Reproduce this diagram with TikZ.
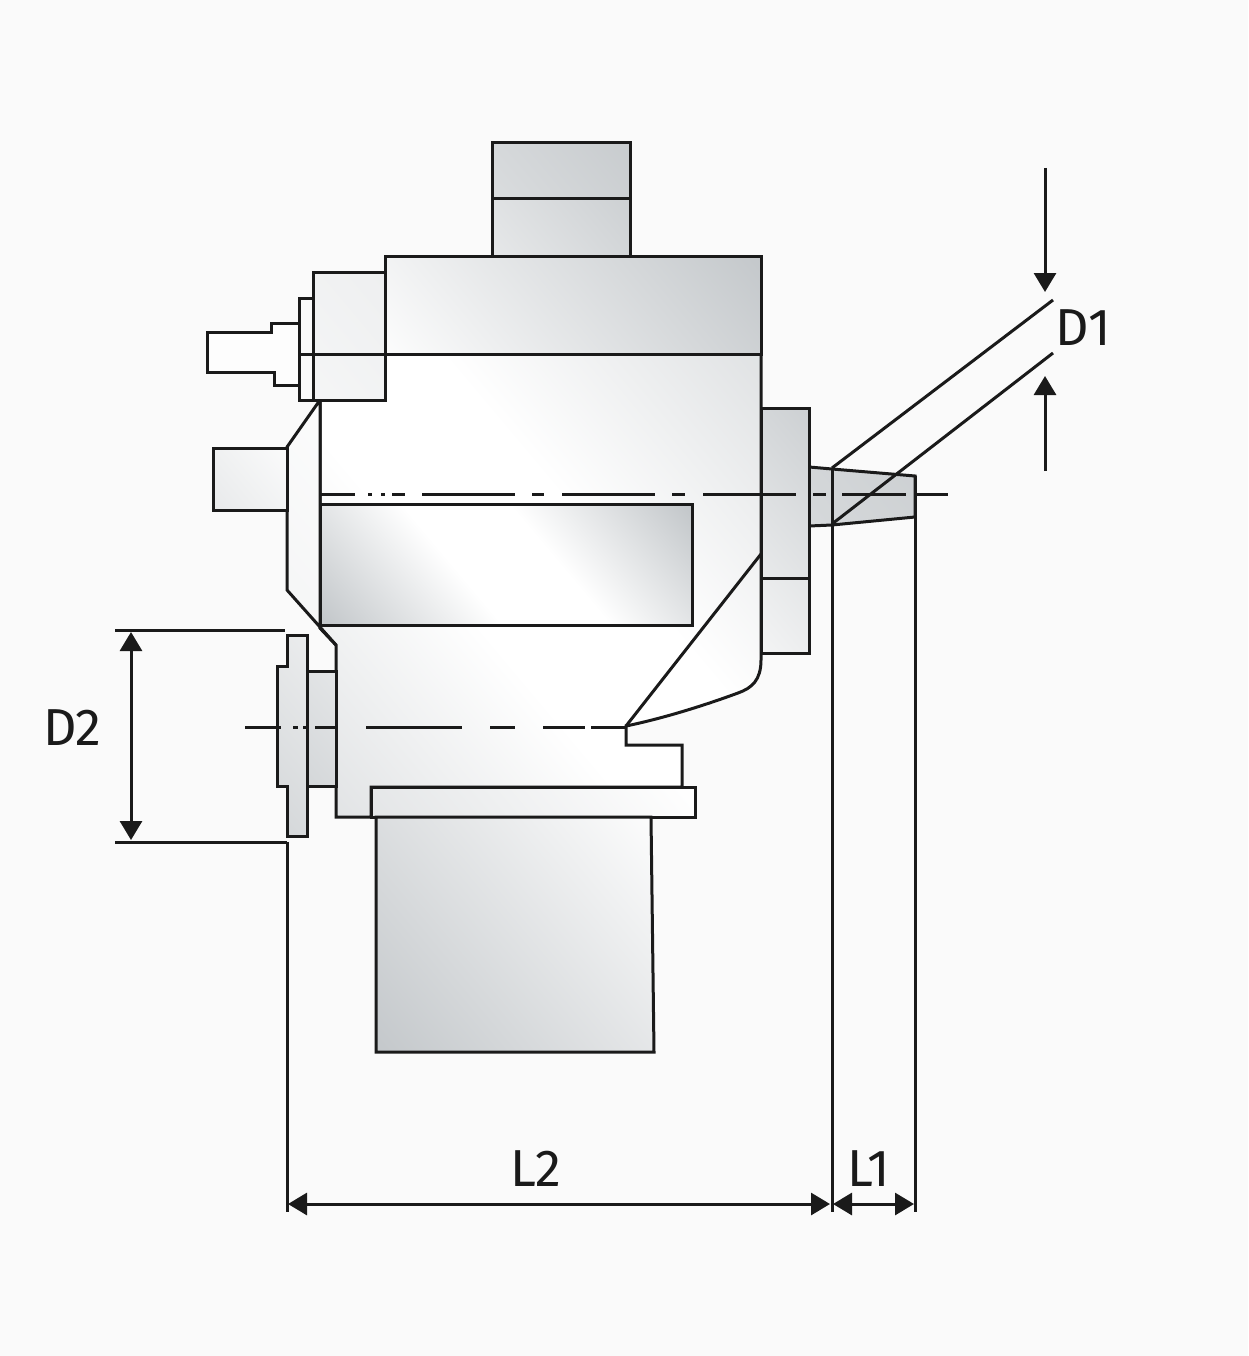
\documentclass[tikz,border=0pt]{standalone}
\usepackage{fontspec}
\newfontfamily\dimfont{Fira Sans}
\usetikzlibrary{arrows.meta}
\definecolor{paper}{HTML}{FAFAFA}
\definecolor{ink}{HTML}{1A1A1A}
\definecolor{steel}{HTML}{C4C8CB}
\colorlet{rampfrom}{steel}
\colorlet{rampto}{white}
\colorlet{sheenend}{steel}
\pgfdeclareverticalshading[rampfrom,rampto]{ramp}{100bp}{color(0bp)=(rampfrom); color(15bp)=(rampfrom);
  color(85bp)=(rampto); color(100bp)=(rampto)}
\pgfdeclareverticalshading[sheenend]{sheenband}{100bp}{color(0bp)=(sheenend); color(16bp)=(sheenend);
  color(42bp)=(white); color(58bp)=(white); color(84bp)=(sheenend); color(100bp)=(sheenend)}
\begin{document}
\begin{tikzpicture}[x=1pt,y=-1pt,
        part/.style 2 args={draw=ink,line width=3pt,line join=miter,
          /utils/exec={\colorlet{rampfrom}{steel!#1!white}\colorlet{rampto}{steel!#2!white}},
          shade,shading=ramp,shading angle=-50},
        sheen/.style={draw=ink,line width=3pt,line join=miter,
          /utils/exec={\colorlet{sheenend}{steel!#1!white}},
          shade,shading=sheenband,shading angle=-50},
        flatpart/.style={draw=ink,line width=3pt,fill=#1},
        edge/.style={draw=ink,line width=3pt},
        centerline/.style={draw=ink,line width=3pt},
        dim/.style={draw=ink,line width=3pt,{Triangle[length=19pt,width=22pt]}-{Triangle[length=19pt,width=22pt]}},
        lead/.style={draw=ink,line width=3pt,-{Triangle[length=19pt,width=22pt]}},
        dimlabel/.style={text=ink,inner sep=0pt,font=\dimfont\fontsize{52}{52}\selectfont}]
      \useasboundingbox[fill=paper] (0,0) rectangle (1248,1356);
      % body
      \draw[sheen=50] (385,354) -- (761,354) -- (761,660)
        .. controls (761,680) and (752,688) .. (738,693)
        .. controls (700,707) and (660,719) .. (626,726)
        -- (626,745) -- (682,745) -- (682,787) -- (371,787) -- (371,817)
        -- (336,817) -- (336,645) -- (320,628) -- (320,400) -- (385,400) -- cycle;
      \draw[part={18}{5}] (320,400) -- (287,447) -- (287,590) -- (336,645) -- (320,628) -- cycle;
      \draw[edge] (761,554) -- (626,726);
      % head and cap
      \draw[part={5}{100}] (385,256) rectangle (761,354);
      \draw[part={63}{93}] (492,143) rectangle (630,199);
      \draw[part={42}{85}] (492,199) rectangle (630,256);
      % window
      \draw[sheen=100] (320,504) rectangle (692,625);
      % left fittings
      \draw[flatpart=steel!3!white] (207,332) -- (271,332) -- (271,323) -- (299,323)
        -- (299,385) -- (274,385) -- (274,372) -- (207,372) -- cycle;
      \draw[flatpart=paper] (299,298) rectangle (313,400);
      \draw[part={17}{29}] (313,272) rectangle (385,400);
      \draw[edge] (299,354) -- (385,354);
      \draw[part={39}{8}] (213,448) rectangle (287,510);
      % flange
      \draw[part={73}{46}] (307,671) rectangle (336,786);
      \draw[part={73}{34}] (287,635) -- (307,635) -- (307,836) -- (287,836) -- (287,786)
        -- (277,786) -- (277,666) -- (287,666) -- cycle;
      % foot and motor
      \draw[part={46}{0}] (371,787) rectangle (695,817);
      \draw[part={100}{5}] (376,817) -- (651,817) -- (654,1052) -- (376,1052) -- cycle;
      % right side
      \draw[part={70}{85}] (809,467) -- (832,469) -- (915,476) -- (915,517)
        -- (832,525) -- (809,526);
      \draw[part={39}{85}] (761,408) rectangle (809,578);
      \draw[part={20}{46}] (761,578) rectangle (809,653);
      % center lines
      \foreach \a/\b in {320/355,368/372,381/385,392/405,422/515,532/544,562/655,
          672/685,703/796,813/826,842/906,917/948}
        \draw[centerline] (\a,494) -- (\b,494);
      \foreach \a/\b in {245/281,293/298,303/308,315/338,366/462,490/515,543/585,591/627}
        \draw[centerline] (\a,727) -- (\b,727);
      % dimensions
      \coordinate (d1top) at (1045,168);
      \coordinate (d1topend) at (1045,292);
      \coordinate (d1bot) at (1045,471);
      \coordinate (d1botend) at (1045,376);
      \coordinate (d1a) at (832,468);
      \coordinate (d1b) at (1053,300);
      \coordinate (d1c) at (832,524);
      \coordinate (d1d) at (1053,353);
      \coordinate (d2a) at (115,630);
      \coordinate (d2b) at (285,630);
      \coordinate (d2c) at (115,842);
      \coordinate (d2d) at (287,842);
      \coordinate (d2top) at (131,632);
      \coordinate (d2bot) at (131,840);
      \coordinate (l2a) at (287,842);
      \coordinate (l2b) at (287,1212);
      \coordinate (l1a) at (832,468);
      \coordinate (l1b) at (832,1212);
      \coordinate (l0a) at (915,476);
      \coordinate (l0b) at (915,1212);
      \coordinate (l2left) at (288,1204);
      \coordinate (l2right) at (830,1204);
      \coordinate (l1left) at (833,1204);
      \coordinate (l1right) at (914,1204);
      \draw[edge] (d1a) -- (d1b);
      \draw[edge] (d1c) -- (d1d);
      \draw[edge] (d2a) -- (d2b);
      \draw[edge] (d2c) -- (d2d);
      \draw[edge] (l2a) -- (l2b);
      \draw[edge] (l1a) -- (l1b);
      \draw[edge] (l0a) -- (l0b);
      \draw[lead] (d1top) -- (d1topend);
      \draw[lead] (d1bot) -- (d1botend);
      \draw[dim] (d2top) -- (d2bot);
      \draw[dim] (l2left) -- (l2right);
      \draw[dim] (l1left) -- (l1right);
      \node[dimlabel] (d1) at (1083,328) {D1};
      \node[dimlabel] (d2) at (72,728) {D2};
      \node[dimlabel] (l2) at (536,1169) {L2};
      \node[dimlabel] (l1) at (869,1169) {L1};
\end{tikzpicture}
\end{document}
